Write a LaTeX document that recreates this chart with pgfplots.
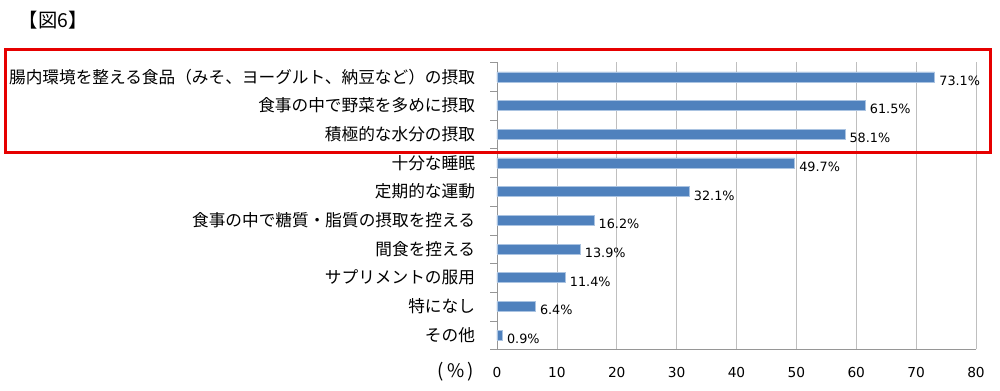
\documentclass[border=0pt]{standalone}
\usepackage{pgfplots}
\pgfplotsset{compat=1.18}
\usepackage{fontspec}
\setmainfont{Noto Sans CJK JP}
\newfontfamily\dejavu{DejaVu Sans}
\definecolor{barblue}{RGB}{79,129,189}
\definecolor{baredge}{RGB}{170,195,225}
\definecolor{gridgray}{RGB}{191,191,191}
\definecolor{axgray}{RGB}{150,150,150}
\definecolor{boxred}{RGB}{230,0,0}
\begin{document}
\begin{tikzpicture}[x=1pt,y=1pt]
\useasboundingbox (0,0) rectangle (750,292.5);
\begin{axis}[
  at={(372.75pt,30.4pt)}, anchor=south west,
  scale only axis, width=359.25pt, height=215.25pt,
  xbar, bar width=7.5pt,
  xmin=0, xmax=80, ymin=0.5, ymax=10.5,
  xtick={0,10,...,80},
  ytick={1,...,10},
  yticklabels={その他,特になし,サプリメントの服用,間食を控える,食事の中で糖質・脂質の摂取を控える,定期的な運動,十分な睡眠,積極的な水分の摂取,食事の中で野菜を多めに摂取,腸内環境を整える食品（みそ、ヨーグルト、納豆など）の摂取},
  minor ytick={0.5,1.5,...,10.5},
  axis x line*=bottom, axis y line*=left,
  axis line style={-, draw=axgray},
  xtick pos=bottom, ytick pos=left,
  major tick length=0pt,
  minor tick length=5pt,
  tick align=outside,
  minor tick style={draw=axgray},
  xmajorgrids, major grid style={draw=gridgray},
  /pgf/number format/assume math mode=true,
  xticklabel style={font=\fontsize{10.3}{12}\dejavu, yshift=-9.5pt},
  yticklabel style={font=\fontsize{12.5}{15}\selectfont, xshift=-13pt},
  point meta=x,
  nodes near coords={\pgfmathprintnumber[fixed,fixed zerofill,precision=1]{\pgfplotspointmeta}\%},
  every node near coord/.append style={font=\fontsize{9.6}{11}\dejavu, anchor=west, xshift=0pt, yshift=-2.8pt, text=black},
  clip=false,
]
\addplot[fill=barblue, draw=baredge, line width=0.4pt] coordinates {
(0.9,1) (6.4,2) (11.4,3) (13.9,4) (16.2,5) (32.1,6) (49.7,7) (58.1,8) (61.5,9) (73.1,10)};
\end{axis}
\node[anchor=west, font=\fontsize{14.5}{17}\selectfont] at (10.5,277.5) {【図6】};
\node[anchor=east, font=\fontsize{14}{17}\selectfont] at (359,13.5) {(\,\%\,)};
\draw[boxred, line width=2.25pt] (3.75,178.5) rectangle (742.5,255);
\end{tikzpicture}
\end{document}
